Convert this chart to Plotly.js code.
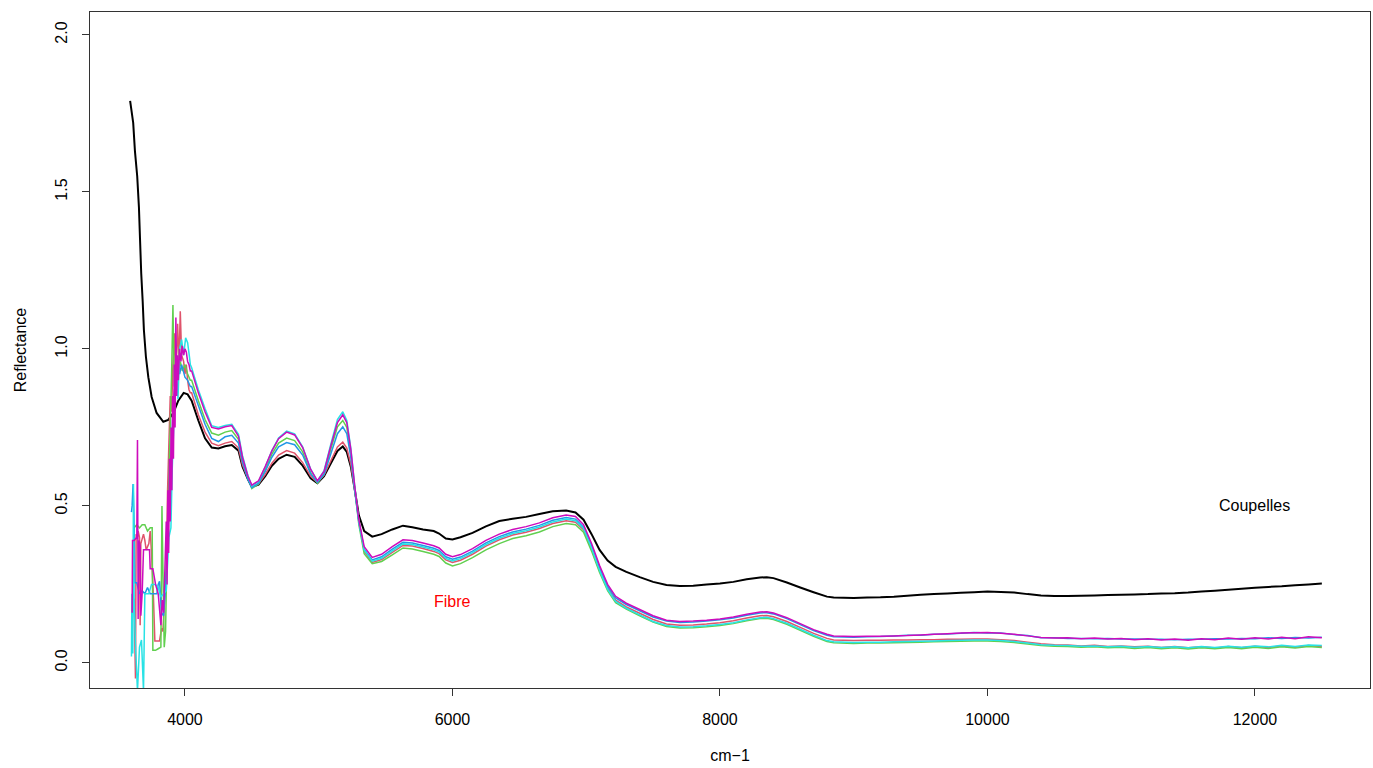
<!DOCTYPE html>
<html>
<head>
<meta charset="utf-8">
<script src="https://cdn.plot.ly/plotly-3.0.1.min.js"></script>
<style>html,body{margin:0;padding:0;background:#fff;}#chart{width:1373px;height:768px;}</style>
</head>
<body>
<div id="chart"></div>
<script>
// ---- shared wavenumber grid (cm-1) for the smooth part of the spectra ----
const wn = [4050,4100,4150,4200,4250,4300,4350,4400,
  4430,4470,4500,4550,4600,4650,4700,
  4760,4820,4880,4940,4990,
  5040,5090,5140,5180,5210,
  5240,5270,5300,5340,5400,
  5470,5550,5630,5700,5780,
  5860,5900,5950,6000,6060,
  6150,6250,6350,6450,6550,
  6650,6750,6850,6920,6980,
  7040,7100,7160,7220,7300,
  7400,7500,7600,7700,7800,
  7900,8000,8100,8200,8300,
  8350,8400,8500,8600,8700,
  8800,8850,
  9000,9100,9200,9300,9400,9500,9600,9700,9800,9900,
  10000,10100,10200,10300,10400,10500,10600,10700,10800,10900,
  11000,11100,11200,11300,11400,11500,11600,11700,11800,11900,
  12000,12100,12200,12300,12400,12500];

// ---- Coupelles (black) ----
const coupStartX = [3590,3600,3613,3626,3643,3656,3664,3673,3684,3693,3708,3726,3751,3788,3838,3875,3913,3950,3990,4020];
const coupStartY = [1.79,1.76,1.72,1.63,1.55,1.45,1.35,1.24,1.15,1.06,0.975,0.91,0.847,0.796,0.768,0.774,0.796,0.835,0.860,0.855];
const coupY = [0.835,0.772,0.715,0.686,0.683,0.690,0.694,0.676,
  0.625,0.585,0.560,0.568,0.595,0.628,0.650,
  0.663,0.656,0.628,0.588,0.572,
  0.595,0.635,0.675,0.689,0.672,
  0.625,0.550,0.470,0.420,0.402,
  0.410,0.425,0.437,0.432,0.425,
  0.420,0.412,0.396,0.393,0.400,
  0.414,0.435,0.452,0.459,0.465,
  0.474,0.483,0.485,0.479,0.456,
  0.410,0.360,0.326,0.306,0.290,
  0.273,0.258,0.248,0.245,0.246,
  0.250,0.253,0.258,0.266,0.272,
  0.273,0.270,0.256,0.240,0.225,
  0.211,0.208,
  0.207,0.208,0.209,0.211,0.214,0.217,0.219,0.221,0.223,0.225,
  0.227,0.226,0.224,0.219,0.215,0.213,0.213,0.214,0.215,0.216,
  0.217,0.218,0.219,0.221,0.222,0.224,0.227,0.230,0.233,0.236,
  0.239,0.242,0.244,0.247,0.250,0.253];

// ---- Fibre spectra: noisy start (own x) + smooth grid values ----
const redStartX = [3605,3610,3620,3630,3635,3645,3650,3660,3665,3670,3690,3700,3710,3730,3740,3750,3765,3775,3800,3810,3825,3835,3850,3860,3870,3880,3890,3900,3910,3920,3930,3945,3955,3965,3975,3990,4000,4010,4020,4030,4040];
const redStartY = [0.17,0.21,0.20,-0.05,0.41,0.40,0.42,0.40,0.12,0.38,0.41,0.39,0.36,0.38,0.42,0.35,0.20,0.07,0.07,0.07,0.11,0.10,0.22,0.30,0.55,0.70,0.85,0.80,0.95,1.05,0.90,1.08,0.95,1.12,0.98,0.96,0.92,0.95,0.90,0.87,0.86];
const redY = [0.860,0.790,0.735,0.700,0.692,0.700,0.705,0.685,
  0.630,0.588,0.562,0.570,0.600,0.636,0.662,
  0.676,0.668,0.638,0.594,0.574,
  0.598,0.643,0.688,0.703,0.684,
  0.632,0.548,0.455,0.356,0.320,
  0.329,0.352,0.374,0.372,0.364,
  0.355,0.348,0.328,0.320,0.327,
  0.346,0.372,0.392,0.407,0.416,
  0.428,0.444,0.453,0.448,0.424,
  0.364,0.296,0.238,0.200,0.178,
  0.158,0.138,0.124,0.120,0.121,
  0.124,0.128,0.134,0.143,0.150,
  0.151,0.147,0.132,0.113,0.094,
  0.078,0.073,
  0.071,0.072,0.072,0.073,0.073,0.074,0.074,0.075,0.075,0.076,
  0.076,0.074,0.071,0.066,0.061,0.058,0.057,0.054,0.056,0.052,
  0.054,0.051,0.053,0.049,0.052,0.048,0.051,0.047,0.052,0.048,
  0.053,0.049,0.054,0.050,0.055,0.052];

const greenStartX = [3605,3612,3620,3640,3660,3680,3700,3720,3740,3755,3760,3780,3800,3820,3828,3835,3845,3855,3865,3880,3890,3900,3910,3920,3935,3950,3965,3980,4000,4020,4040];
const greenStartY = [0.20,0.22,0.43,0.44,0.43,0.44,0.44,0.42,0.43,0.43,0.04,0.04,0.045,0.05,0.50,0.30,0.05,0.10,0.35,0.60,0.75,0.92,1.14,0.88,0.98,0.92,0.96,0.93,0.95,0.92,0.90];
const greenY = [0.900,0.835,0.775,0.732,0.725,0.735,0.740,0.712,
  0.650,0.590,0.555,0.570,0.615,0.665,0.700,
  0.716,0.708,0.672,0.605,0.572,
  0.602,0.680,0.752,0.772,0.750,
  0.668,0.552,0.440,0.348,0.316,
  0.323,0.344,0.366,0.363,0.355,
  0.346,0.339,0.318,0.309,0.316,
  0.335,0.360,0.380,0.396,0.405,
  0.417,0.434,0.444,0.440,0.416,
  0.356,0.288,0.230,0.192,0.171,
  0.150,0.130,0.116,0.111,0.112,
  0.115,0.119,0.125,0.134,0.141,
  0.142,0.138,0.123,0.104,0.085,
  0.068,0.064,
  0.062,0.063,0.063,0.064,0.065,0.066,0.067,0.068,0.069,0.070,
  0.070,0.068,0.065,0.060,0.055,0.053,0.052,0.050,0.051,0.048,
  0.050,0.046,0.049,0.045,0.048,0.044,0.048,0.045,0.049,0.045,
  0.050,0.046,0.051,0.047,0.052,0.049];

const blueStartX = [3600,3605,3612,3618,3625,3640,3660,3680,3700,3720,3740,3760,3790,3800,3810,3825,3840,3855,3870,3885,3900,3915,3930,3945,3960,3975,4000,4020,4040];
const blueStartY = [0.48,0.50,0.57,0.48,0.255,0.255,0.22,0.23,0.22,0.24,0.22,0.22,0.22,0.25,0.26,0.16,0.15,0.24,0.40,0.52,0.70,0.84,0.90,0.96,0.92,0.95,0.91,0.90,0.88];
const blueY = [0.880,0.820,0.760,0.715,0.705,0.720,0.725,0.700,
  0.640,0.585,0.558,0.572,0.610,0.655,0.688,
  0.702,0.695,0.662,0.602,0.575,
  0.600,0.665,0.730,0.752,0.730,
  0.655,0.545,0.448,0.362,0.328,
  0.338,0.362,0.384,0.382,0.374,
  0.365,0.358,0.338,0.330,0.337,
  0.356,0.382,0.402,0.417,0.426,
  0.438,0.454,0.463,0.458,0.432,
  0.372,0.302,0.244,0.207,0.186,
  0.166,0.146,0.133,0.129,0.130,
  0.133,0.137,0.143,0.152,0.159,
  0.160,0.156,0.141,0.122,0.103,
  0.088,0.083,
  0.082,0.083,0.084,0.086,0.088,0.088,0.091,0.092,0.094,0.097,
  0.095,0.095,0.090,0.087,0.080,0.080,0.078,0.078,0.077,0.078,
  0.076,0.076,0.075,0.075,0.074,0.075,0.075,0.077,0.076,0.078,
  0.077,0.080,0.078,0.081,0.079,0.082];

const cyanStartX = [3600,3603,3606,3610,3615,3620,3630,3645,3660,3675,3690,3700,3730,3750,3780,3800,3820,3840,3860,3880,3895,3905,3920,3935,3948,3960,3975,3990,4005,4020,4035,4040];
const cyanStartY = [0.02,0.22,0.10,0.03,0.57,0.20,0.06,-0.09,0.05,0.073,-0.09,0.22,0.22,0.25,0.25,0.24,0.21,0.22,0.23,0.40,0.43,0.62,0.80,0.92,0.84,1.00,1.03,0.98,1.035,1.02,0.97,0.95];
const cyanY = [0.940,0.870,0.810,0.755,0.750,0.756,0.760,0.728,
  0.660,0.598,0.563,0.578,0.624,0.676,0.716,
  0.738,0.729,0.688,0.617,0.579,
  0.612,0.696,0.775,0.800,0.772,
  0.684,0.560,0.450,0.360,0.324,
  0.333,0.357,0.379,0.377,0.369,
  0.360,0.353,0.333,0.325,0.332,
  0.351,0.377,0.397,0.412,0.421,
  0.433,0.449,0.458,0.453,0.428,
  0.366,0.294,0.234,0.196,0.174,
  0.153,0.132,0.119,0.114,0.115,
  0.118,0.122,0.128,0.137,0.144,
  0.145,0.141,0.126,0.107,0.088,
  0.071,0.067,
  0.065,0.066,0.066,0.067,0.068,0.069,0.070,0.071,0.072,0.073,
  0.073,0.071,0.068,0.063,0.058,0.056,0.055,0.053,0.054,0.051,
  0.053,0.050,0.052,0.049,0.051,0.048,0.052,0.049,0.053,0.050,
  0.054,0.051,0.056,0.052,0.057,0.055];

const magStartX = [3605,3608,3620,3640,3645,3650,3655,3665,3670,3680,3690,3700,3720,3735,3740,3760,3780,3800,3820,3830,3840,3850,3860,3866,3872,3878,3884,3890,3896,3902,3908,3914,3920,3926,3932,3938,3944,3950,3960,3970,3980,3990,4000,4010,4020,4030,4040];
const magStartY = [0.16,0.39,0.39,0.40,0.71,0.14,0.39,0.37,0.15,0.22,0.36,0.36,0.36,0.36,0.30,0.30,0.25,0.22,0.12,0.20,0.16,0.30,0.45,0.25,0.55,0.35,0.65,0.45,0.75,0.55,0.85,0.65,0.95,0.75,1.10,0.85,0.98,0.90,1.00,0.96,1.01,0.98,1.00,0.99,0.96,0.95,0.93];
const magY = [0.930,0.860,0.800,0.750,0.745,0.752,0.756,0.722,
  0.655,0.595,0.566,0.580,0.625,0.675,0.714,
  0.735,0.726,0.686,0.616,0.580,
  0.610,0.690,0.765,0.790,0.765,
  0.680,0.560,0.455,0.370,0.336,
  0.346,0.370,0.392,0.390,0.382,
  0.373,0.366,0.346,0.338,0.345,
  0.364,0.390,0.410,0.425,0.434,
  0.446,0.462,0.471,0.466,0.440,
  0.380,0.310,0.250,0.212,0.190,
  0.170,0.150,0.136,0.132,0.133,
  0.136,0.140,0.146,0.155,0.162,
  0.163,0.159,0.144,0.125,0.106,
  0.091,0.086,
  0.084,0.085,0.085,0.086,0.087,0.089,0.091,0.093,0.095,0.096,
  0.097,0.094,0.091,0.086,0.081,0.079,0.080,0.077,0.079,0.076,
  0.078,0.074,0.077,0.073,0.076,0.072,0.077,0.074,0.079,0.075,
  0.080,0.076,0.082,0.077,0.083,0.080];

// ---- labels ----
const labels = [
  {text: 'Fibre', x: 6000, y: 0.195, color: '#FF0000'},
  {text: 'Coupelles', x: 12000, y: 0.50, color: '#000000'}
];
const xTicks = [4000, 6000, 8000, 10000, 12000];
const yTicks = [0.0, 0.5, 1.0, 1.5, 2.0];

const FONT = '"Liberation Sans", Arial, Helvetica, sans-serif';

function trace(x, y, color, width) {
  return {x: x, y: y, type: 'scatter', mode: 'lines',
    line: {color: color, width: width, simplify: false},
    hoverinfo: 'skip', showlegend: false};
}

const data = [
  trace(coupStartX.concat(wn), coupStartY.concat(coupY), '#000000', 2),
  trace(redStartX.concat(wn), redStartY.concat(redY), '#DF536B', 1.5),
  trace(greenStartX.concat(wn), greenStartY.concat(greenY), '#61D04F', 1.5),
  trace(blueStartX.concat(wn), blueStartY.concat(blueY), '#2297E6', 1.5),
  trace(cyanStartX.concat(wn), cyanStartY.concat(cyanY), '#28E2E5', 1.5),
  trace(magStartX.concat(wn), magStartY.concat(magY), '#CD0BBC', 1.5)
];

const layout = {
  width: 1373, height: 768,
  margin: {l: 90, r: 3, t: 12, b: 80, pad: 0},
  paper_bgcolor: '#ffffff', plot_bgcolor: '#ffffff',
  font: {family: FONT, size: 16, color: '#000'},
  showlegend: false,
  xaxis: {
    range: [3290, 12860], tickvals: xTicks, ticktext: xTicks.map(String),
    showgrid: false, zeroline: false, showline: true, mirror: true,
    linecolor: '#333', linewidth: 1.2, ticks: 'outside', ticklen: 7, tickcolor: '#333',
    tickfont: {family: FONT, size: 16, color: '#000'},
    ticklabelstandoff: 10,
    title: {text: 'cm\u22121', font: {family: FONT, size: 16, color: '#000'}, standoff: 22},
    automargin: false
  },
  yaxis: {
    range: [-0.08, 2.073], tickvals: yTicks, ticktext: yTicks.map(v => v.toFixed(1)),
    tickangle: -90,
    showgrid: false, zeroline: false, showline: true, mirror: true,
    linecolor: '#333', linewidth: 1.2, ticks: 'outside', ticklen: 7, tickcolor: '#333',
    tickfont: {family: FONT, size: 16, color: '#000'},
    ticklabelstandoff: 8,
    title: {text: 'Reflectance', font: {family: FONT, size: 16, color: '#000'}, standoff: 22},
    automargin: false
  },
  annotations: labels.map(l => ({
    x: l.x, y: l.y, xref: 'x', yref: 'y', text: l.text, showarrow: false,
    font: {family: FONT, size: 16, color: l.color}, xanchor: 'center', yanchor: 'middle'
  }))
};

Plotly.newPlot('chart', data, layout, {displayModeBar: false, staticPlot: true});
</script>
</body>
</html>
